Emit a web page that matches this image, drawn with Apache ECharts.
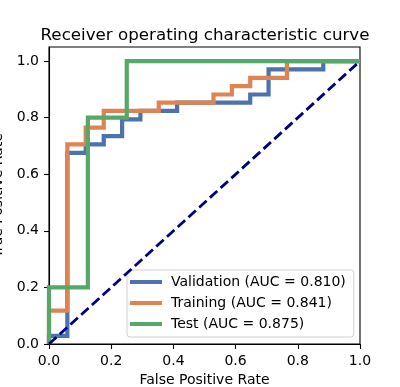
<!DOCTYPE html>
<html lang="en">
<head>
    <meta charset="utf-8">
    <title>ROC curve</title>
    <script type="text/javascript" src="https://cdn.jsdelivr.net/npm/echarts@6/dist/echarts.min.js"></script>
    <style>
        html, body { margin: 0; padding: 0; background: #fff; }
    </style>
</head>
<body>
<div id="main" style="width: 400px;height:387px;"></div>

<script>
    // 数据
    var valFpr = [0, 0, 0.059, 0.059, 0.118, 0.118, 0.176, 0.176, 0.235, 0.235, 0.294, 0.294, 0.412, 0.412, 0.647, 0.647, 0.706, 0.706, 0.882, 0.882, 1];
    var valTpr = [0, 0.029, 0.029, 0.676, 0.676, 0.706, 0.706, 0.735, 0.735, 0.794, 0.794, 0.824, 0.824, 0.853, 0.853, 0.882, 0.882, 0.971, 0.971, 1, 1];

    var trainFpr = [0, 0, 0.059, 0.059, 0.118, 0.118, 0.176, 0.176, 0.353, 0.353, 0.529, 0.529, 0.588, 0.588, 0.647, 0.647, 0.765, 0.765, 1];
    var trainTpr = [0, 0.118, 0.118, 0.706, 0.706, 0.765, 0.765, 0.824, 0.824, 0.853, 0.853, 0.882, 0.882, 0.912, 0.912, 0.941, 0.941, 1, 1];

    var testFpr = [0, 0, 0.125, 0.125, 0.25, 0.25, 1];
    var testTpr = [0, 0.2, 0.2, 0.8, 0.8, 1, 1];

    var chanceFpr = [0, 1];
    var chanceTpr = [0, 1];

    var seriesNames = ['Validation (AUC = 0.810)', 'Training (AUC = 0.841)', 'Test (AUC = 0.875)'];
    var seriesColors = ['#4C72B0', '#DD8452', '#55A868'];
    var tickValues = [0, 0.2, 0.4, 0.6, 0.8, 1.0];

    function zipXY(xs, ys) {
        return xs.map(function (x, i) { return [x, ys[i]]; });
    }

    var font = 'DejaVu Sans';
    var chartDom = document.getElementById('main');
    var myChart = echarts.init(chartDom, null, {renderer: 'canvas'});

    var curves = [[valFpr, valTpr], [trainFpr, trainTpr], [testFpr, testTpr]];
    var series = curves.map(function (c, i) {
        return {
            name: seriesNames[i],
            type: 'line',
            data: zipXY(c[0], c[1]),
            showSymbol: false,
            lineStyle: {color: seriesColors[i], width: 4.2, cap: 'butt', join: 'miter'},
            itemStyle: {color: seriesColors[i]},
            z: 2 + i
        };
    });
    series.push({
        name: 'chance',
        type: 'line',
        data: zipXY(chanceFpr, chanceTpr),
        showSymbol: false,
        lineStyle: {color: '#000080', width: 2.8, type: [10, 4.5]},
        z: 6
    });

    var axisCommon = {
        type: 'value',
        axisLine: {show: true, onZero: false, lineStyle: {color: '#000', width: 1.1}},
        axisTick: {show: true, length: 5, lineStyle: {color: '#000', width: 1.1}},
        splitLine: {show: false},
        nameLocation: 'middle',
        nameTextStyle: {fontFamily: font, fontSize: 14, color: '#000'}
    };

    var option = {
        animation: false,
        backgroundColor: '#fff',
        title: {
            text: 'Receiver operating characteristic curve',
            left: 200,
            textAlign: 'center',
            top: 22,
            textStyle: {fontFamily: font, fontSize: 16.7, fontWeight: 'normal', color: '#000'}
        },
        legend: {
            data: seriesNames,
            orient: 'vertical',
            left: 127,
            top: 270,
            icon: 'rect',
            itemWidth: 32,
            itemHeight: 4,
            itemGap: 7,
            padding: [5, 8, 6, 3],
            backgroundColor: 'rgba(255,255,255,0.8)',
            borderColor: '#d0d0d0',
            borderWidth: 1,
            borderRadius: 3,
            textStyle: {fontFamily: font, fontSize: 14, color: '#000', lineHeight: 14, padding: [0, 0, 0, 4]}
        },
        grid: {
            left: 49, top: 47, width: 311, height: 297,
            containLabel: false,
            outerBoundsMode: 'none',
            show: true, borderColor: '#000', borderWidth: 1.1, backgroundColor: 'transparent'
        },
        xAxis: Object.assign({}, axisCommon, {
            min: 0, max: 1, interval: 0.2,
            name: 'False Positive Rate',
            nameGap: 29,
            axisLabel: {
                margin: 10, fontFamily: font, fontSize: 14, color: '#000',
                formatter: function (v) { return v.toFixed(1); }
            }
        }),
        yAxis: Object.assign({}, axisCommon, {
            min: 0, max: 1.05,
            name: 'True Positive Rate',
            nameGap: 35,
            axisTick: {show: true, length: 5, customValues: tickValues, lineStyle: {color: '#000', width: 1.1}},
            axisLabel: {
                margin: 10, fontFamily: font, fontSize: 14, color: '#000',
                customValues: tickValues,
                formatter: function (v) { return v.toFixed(1); }
            }
        }),
        series: series
    };
    myChart.setOption(option);
</script>
</body>
</html>
